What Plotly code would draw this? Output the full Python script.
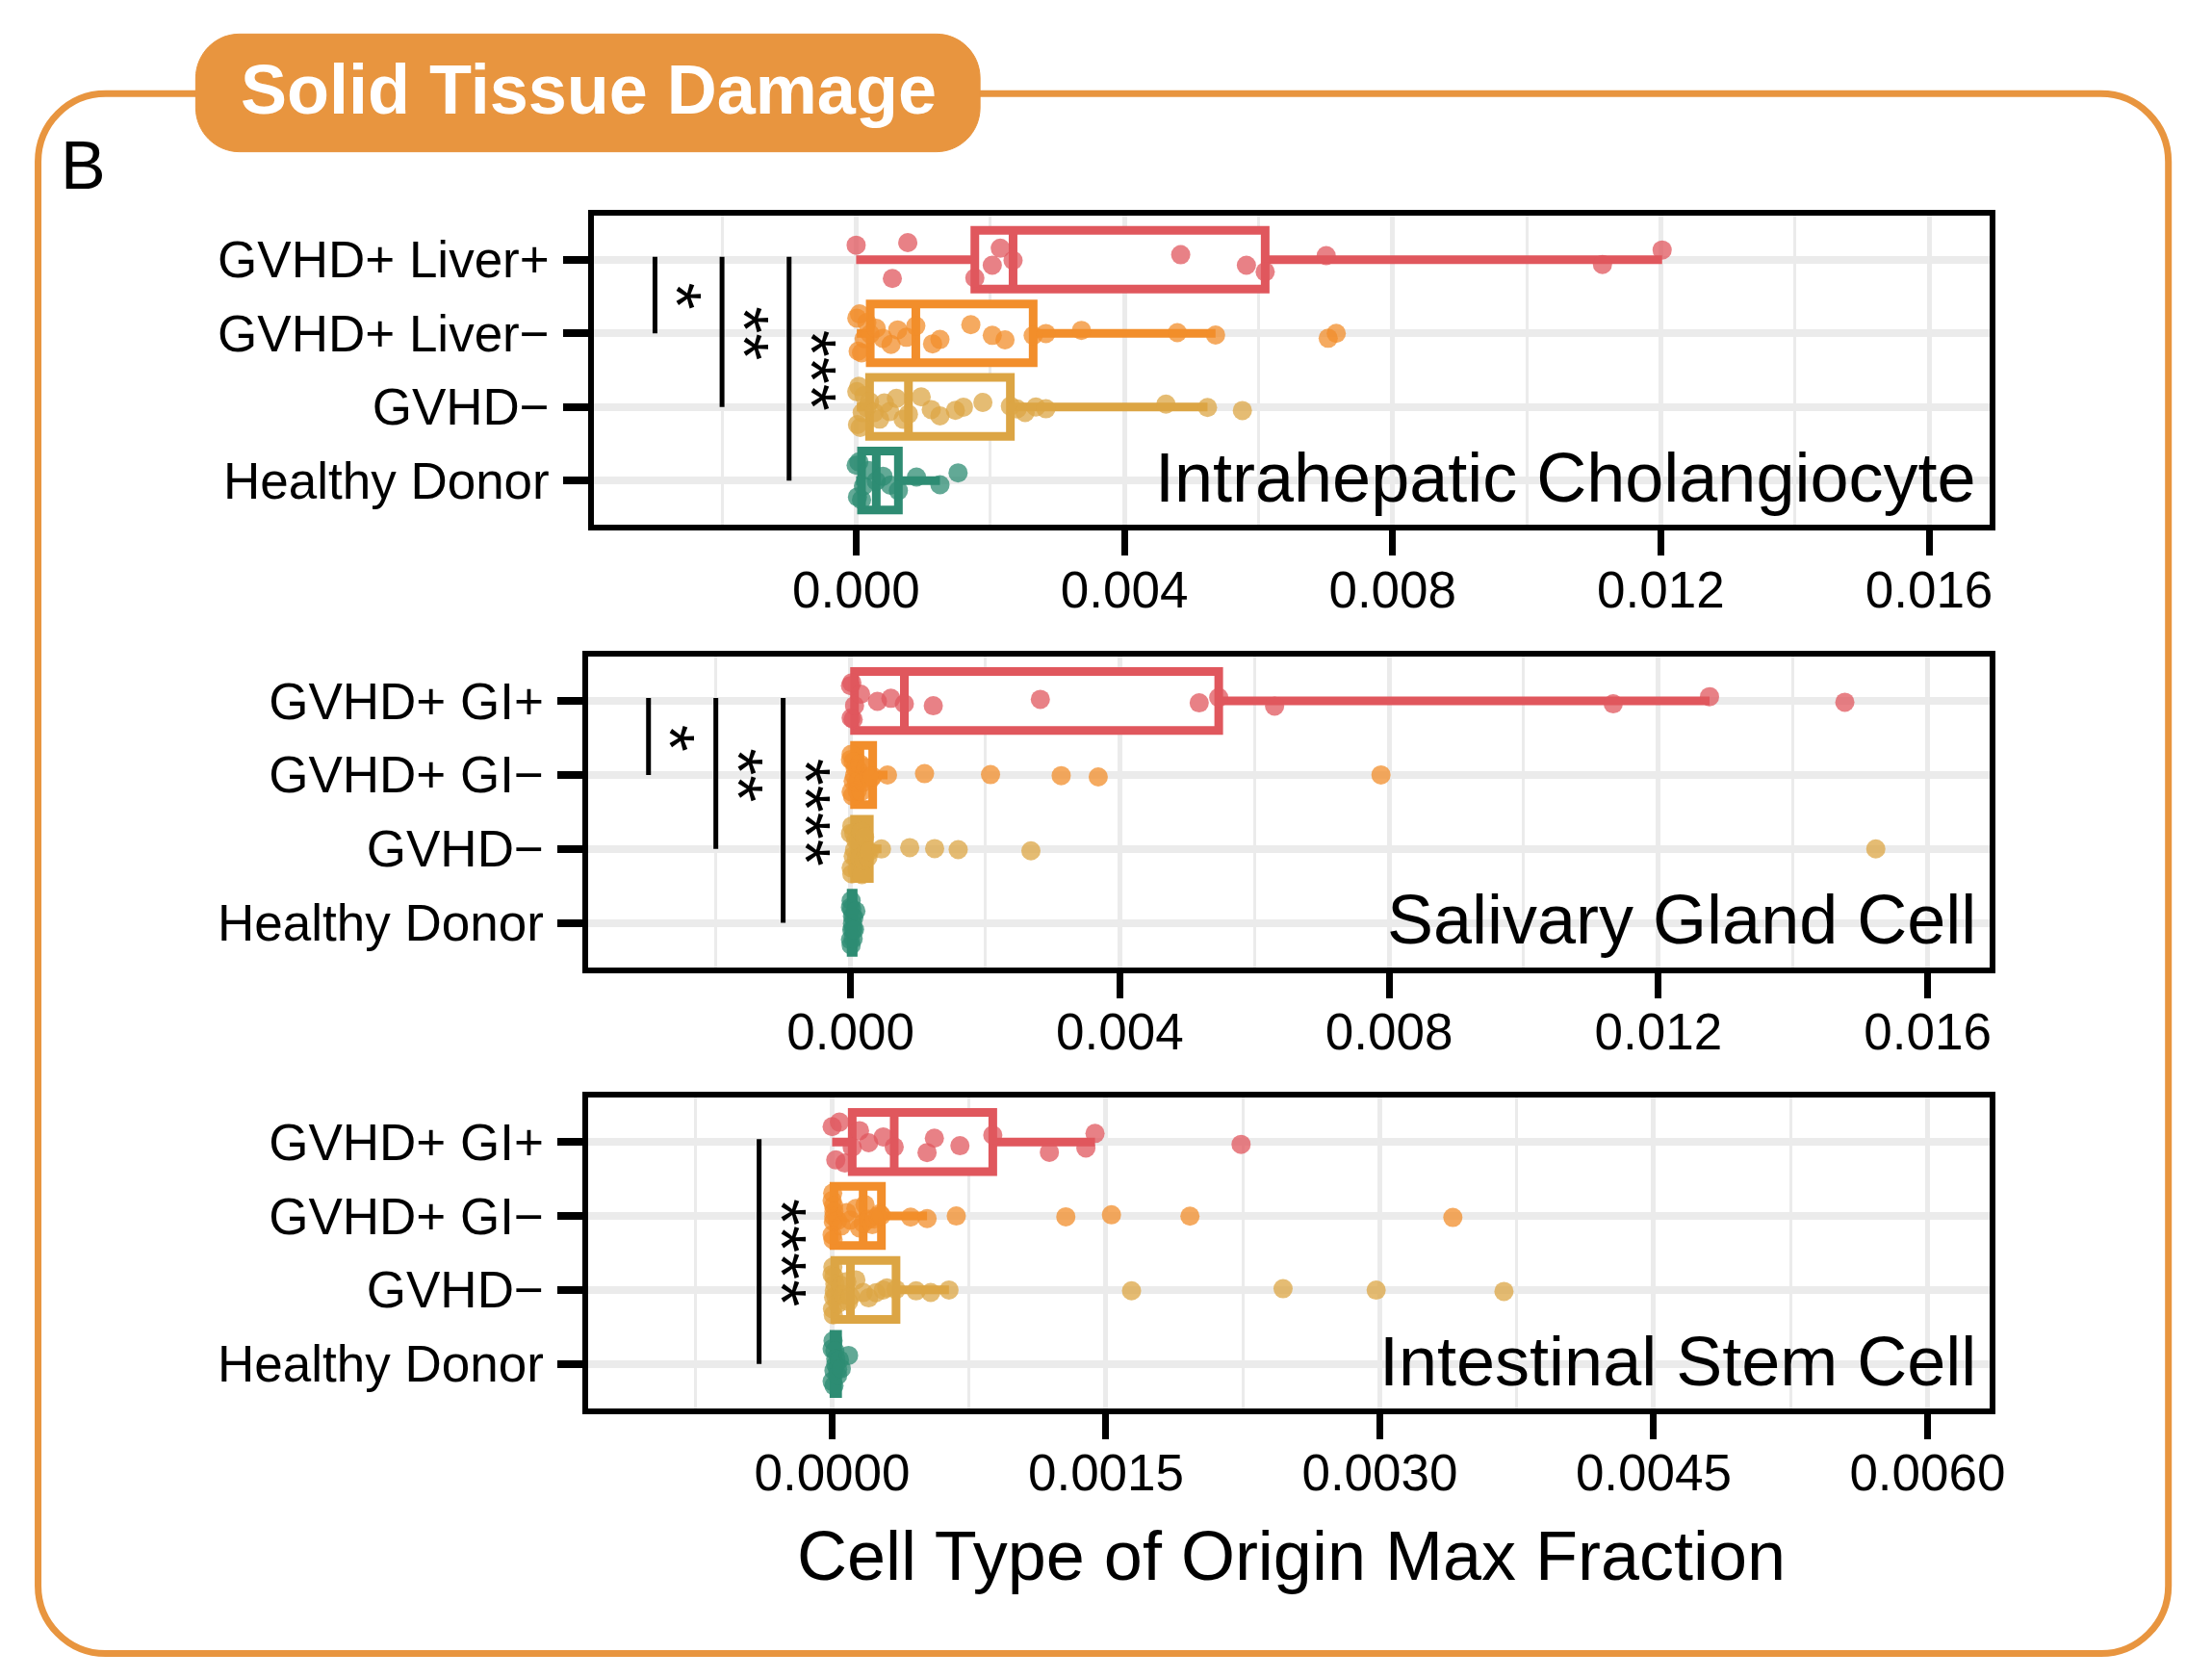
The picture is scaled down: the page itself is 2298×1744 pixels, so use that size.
import plotly.graph_objects as go

# reference is drawn at 1560 wide in my measurements, real page is 2298 wide
S = 2298 / 1560
W, H = 2282, 1728
OFF = 8  # body margin of the html page


def fx(d):
    return (d * S - OFF) / W


def fy(d):
    return 1 - (d * S - OFF) / H


# ---- data -------------------------------------------------------------
liver_cats = ["GVHD+ Liver+", "GVHD+ Liver\u2212", "GVHD\u2212", "Healthy Donor"]
gi_cats = ["GVHD+ GI+", "GVHD+ GI\u2212", "GVHD\u2212", "Healthy Donor"]
group_colors = ["#E0575D", "#F28E2B", "#DCA544", "#2E8C73"]

chol_liver_pos = [0, 0.00054, 0.00077, 0.00177, 0.00203, 0.00215, 0.00234, 0.00484,
                  0.00582, 0.0061, 0.00701, 0.01113, 0.01202]
chol_liver_neg = [0.00001, 0.00003, 0.00005, 0.00008, 0.00012, 0.00016, 0.00021, 0.0003,
                  0.0004, 0.00052, 0.00062, 0.00075, 0.00089, 0.00114, 0.00125, 0.00171,
                  0.00203, 0.00222, 0.00264, 0.00283, 0.00336, 0.00479, 0.00536, 0.00704,
                  0.00716]
chol_gvhd_neg = [0.00001, 0.00002, 0.00004, 0.00006, 0.00009, 0.00012, 0.00016, 0.0002,
                 0.00027, 0.00035, 0.00042, 0.0005, 0.0006, 0.0007, 0.00078, 0.00097,
                 0.00112, 0.00125, 0.00148, 0.0016, 0.00189, 0.0023, 0.0024, 0.00252,
                 0.00268, 0.00283, 0.00462, 0.00524, 0.00576]
chol_healthy = [0, 0.00002, 0.00004, 0.00008, 0.00011, 0.00019, 0.0003, 0.0004, 0.00051,
                0.00063, 0.0009, 0.00125, 0.00152]

sal_gi_pos = [0, 0.00001, 0.00002, 0.00004, 0.00006, 0.00015, 0.0004, 0.0006, 0.0008,
              0.00123, 0.00282, 0.00518, 0.00547, 0.0063, 0.01133, 0.01276, 0.01477]
sal_gi_neg = [0, 0.00001, 0.00001, 0.00003, 0.00004, 0.00004, 0.00006, 0.00007, 0.00009,
              0.0001, 0.00011, 0.00012, 0.00014, 0.00016, 0.00019, 0.00023, 0.00027,
              0.0003, 0.00033, 0.00055, 0.0011, 0.00208, 0.00313, 0.00368, 0.00788]
sal_gvhd_neg = [0, 0.00001, 0.00002, 0.00002, 0.00004, 0.00005, 0.00006, 0.00008, 0.00009,
                0.0001, 0.00012, 0.00014, 0.00016, 0.00017, 0.0002, 0.00021, 0.00024,
                0.00026, 0.00028, 0.00046, 0.00088, 0.00125, 0.0016, 0.00268, 0.01523]
sal_healthy = [0, 0, 0.00001, 0.00001, 0.00002, 0.00002, 0.00003, 0.00003, 0.00004,
               0.00004, 0.00005, 0.00006, 0.00008]

isc_gi_pos = [0, 0.00002, 0.00004, 0.00007, 0.00011, 0.00015, 0.0002, 0.00028, 0.00034,
              0.00052, 0.00056, 0.0007, 0.00088, 0.00119, 0.00139, 0.00144, 0.00224]
isc_gi_neg = [0, 0, 0.000003, 0.000005, 0.000007, 0.000008, 0.000009, 0.00001, 0.00003,
              0.00005, 0.00008, 0.0001, 0.00013, 0.00015, 0.00017, 0.00018, 0.0002,
              0.00022, 0.00023, 0.00025, 0.00026, 0.00027, 0.00043, 0.00052, 0.00068,
              0.00128, 0.00153, 0.00196, 0.0034]
isc_gvhd_neg = [0, 0.000002, 0.000004, 0.000006, 0.000008, 0.00001, 0.000012, 0.000015,
                0.00002, 0.00003, 0.00005, 0.00006, 0.00008, 0.00009, 0.0001, 0.00013,
                0.00017, 0.0002, 0.00024, 0.00028, 0.0003, 0.00035, 0.00046, 0.00054,
                0.00064, 0.00164, 0.00247, 0.00298, 0.00368]
isc_healthy = [0, 0, 0.000005, 0.00001, 0.00001, 0.000015, 0.00002, 0.00002, 0.00003,
               0.00003, 0.00004, 0.00005, 0.00009]

wide_ticks = [0, 0.004, 0.008, 0.012, 0.016]
wide_ticktext = ["0.000", "0.004", "0.008", "0.012", "0.016"]
wide_minor = [-0.002, 0.002, 0.006, 0.010, 0.014]
narrow_ticks = [0, 0.0015, 0.003, 0.0045, 0.006]
narrow_ticktext = ["0.0000", "0.0015", "0.0030", "0.0045", "0.0060"]
narrow_minor = [-0.00075, 0.00075, 0.00225, 0.00375, 0.00525]

# significance: compared with the top group, ends at group index, label
chol_sig_ends = [1, 2, 3]
chol_sig_labels = ["*", "**", "***"]
sal_sig_ends = [1, 2, 3]
sal_sig_labels = ["*", "**", "****"]
isc_sig_ends = [3]
isc_sig_labels = ["****"]

panels = [
    dict(cats=liver_cats, values=[chol_liver_pos, chol_liver_neg, chol_gvhd_neg, chol_healthy],
         label="Intrahepatic Cholangiocyte", rng=[-0.003906, 0.016903],
         ticks=wide_ticks, ticktext=wide_ticktext, minor=wide_minor,
         box=(422, 1413, 152, 370), label_y=337,
         sig_ends=chol_sig_ends, sig_labels=chol_sig_labels,
         sig_x=[-0.003, -0.002, -0.001], star_dx=0.00033),
    dict(cats=gi_cats, values=[sal_gi_pos, sal_gi_neg, sal_gvhd_neg, sal_healthy],
         label="Salivary Gland Cell", rng=[-0.00389, 0.01692],
         ticks=wide_ticks, ticktext=wide_ticktext, minor=wide_minor,
         box=(418, 1413, 463, 682), label_y=648,
         sig_ends=sal_sig_ends, sig_labels=sal_sig_labels,
         sig_x=[-0.003, -0.002, -0.001], star_dx=0.00033),
    dict(cats=gi_cats, values=[isc_gi_pos, isc_gi_neg, isc_gvhd_neg, isc_healthy],
         label="Intestinal Stem Cell", rng=[-0.001334, 0.00634],
         ticks=narrow_ticks, ticktext=narrow_ticktext, minor=narrow_minor,
         box=(418, 1413, 774, 993), label_y=960,
         sig_ends=isc_sig_ends, sig_labels=isc_sig_labels,
         sig_x=[-0.0004], star_dx=0.00012),
]

FONT = "Liberation Sans, Arial, sans-serif"
ORANGE = "#E8953F"
GRID = "#EBEBEB"

fig = go.Figure()
layout = dict(width=W, height=H, margin=dict(l=0, r=0, t=0, b=0),
              paper_bgcolor="white", plot_bgcolor="white",
              font=dict(family=FONT, color="black"), showlegend=False,
              boxmode="overlay")
shapes = []
annotations = []

for p_i, p in enumerate(panels):
    n = "" if p_i == 0 else str(p_i + 1)
    xname, yname = "x" + n, "y" + n
    x0d, x1d, y0d, y1d = p["box"]
    order = list(reversed(p["cats"]))  # bottom -> top
    layout["xaxis" + n] = dict(
        domain=[fx(x0d), fx(x1d)], anchor=yname, range=p["rng"],
        tickmode="array", tickvals=p["ticks"], ticktext=p["ticktext"],
        ticks="outside", ticklen=26, tickwidth=7, tickcolor="black",
        tickfont=dict(size=53, family=FONT, color="black"), ticklabelstandoff=-10,
        showline=True, linewidth=6, linecolor="black", mirror=True,
        showgrid=True, gridcolor=GRID, gridwidth=5, zeroline=False,
        minor=dict(tickmode="array", tickvals=p["minor"], showgrid=True,
                   gridcolor=GRID, gridwidth=3, ticks=""),
    )
    layout["yaxis" + n] = dict(
        domain=[fy(y1d), fy(y0d)], anchor=xname, type="category",
        categoryorder="array", categoryarray=order, range=[-0.6, 3.6],
        ticks="outside", ticklen=26, tickwidth=8, tickcolor="black",
        tickfont=dict(size=53, family=FONT, color="black"), ticklabelstandoff=4,
        showline=True, linewidth=6, linecolor="black", mirror=True,
        showgrid=True, gridcolor=GRID, gridwidth=8, zeroline=False,
    )

    for cat, vals, col in zip(p["cats"], p["values"], group_colors):
        fig.add_trace(go.Box(
            x=vals, y=[cat] * len(vals), orientation="h", name=cat,
            xaxis=xname, yaxis=yname,
            boxpoints="all", jitter=1.0, pointpos=0, width=0.8,
            quartilemethod="inclusive", whiskerwidth=0,
            fillcolor="white", line=dict(color=col, width=9),
            marker=dict(color=col, size=20, opacity=0.75, line=dict(width=0)),
            showlegend=False,
        ))

    # significance brackets from the top group
    top_idx = 3
    for end, lab, sx in zip(p["sig_ends"], p["sig_labels"], p["sig_x"]):
        end_idx = 3 - end
        shapes.append(dict(type="line", xref=xname, yref=yname,
                           x0=sx, x1=sx, y0=top_idx + 0.04, y1=end_idx,
                           line=dict(color="black", width=5)))
        annotations.append(dict(x=sx + p["star_dx"], y=(top_idx + end_idx) / 2,
                                xref=xname, yref=yname, text=lab, showarrow=False,
                                textangle=90, font=dict(size=72, family=FONT, color="black"),
                                xanchor="center", yanchor="middle"))

    annotations.append(dict(x=fx(1405), y=fy(p["label_y"]), xref="paper", yref="paper",
                            text=p["label"], showarrow=False, xanchor="right",
                            yanchor="middle", font=dict(size=72, family=FONT, color="black")))


def rounded_rect(x0, y0, x1, y1, r):
    k = 0.4477
    pts = [
        ("M", [(x0 + r, y0)]), ("L", [(x1 - r, y0)]),
        ("C", [(x1 - r * k, y0), (x1, y0 + r * k), (x1, y0 + r)]),
        ("L", [(x1, y1 - r)]),
        ("C", [(x1, y1 - r * k), (x1 - r * k, y1), (x1 - r, y1)]),
        ("L", [(x0 + r, y1)]),
        ("C", [(x0 + r * k, y1), (x0, y1 - r * k), (x0, y1 - r)]),
        ("L", [(x0, y0 + r)]),
        ("C", [(x0, y0 + r * k), (x0 + r * k, y0), (x0 + r, y0)]),
    ]
    out = []
    for cmd, coords in pts:
        out.append(cmd + " " + " ".join(f"{fx(a):.5f},{fy(b):.5f}" for a, b in coords))
    return " ".join(out) + " Z"


# outer frame and title pill
shapes.insert(0, dict(type="path", xref="paper", yref="paper",
                      path=rounded_rect(27, 66, 1540, 1166, 48),
                      line=dict(color=ORANGE, width=7), fillcolor="rgba(0,0,0,0)"))
shapes.insert(1, dict(type="path", xref="paper", yref="paper",
                      path=rounded_rect(139, 24, 696, 107, 31),
                      line=dict(color=ORANGE, width=1), fillcolor=ORANGE))

annotations += [
    dict(x=fx(418), y=fy(63), xref="paper", yref="paper", text="<b>Solid Tissue Damage</b>",
         showarrow=False, xanchor="center", yanchor="middle",
         font=dict(size=72, family=FONT, color="white")),
    dict(x=fx(59), y=fy(117), xref="paper", yref="paper", text="B",
         showarrow=False, xanchor="center", yanchor="middle",
         font=dict(size=70, family=FONT, color="black")),
    dict(x=fx(917), y=fy(1097), xref="paper", yref="paper",
         text="Cell Type of Origin Max Fraction", showarrow=False,
         xanchor="center", yanchor="middle",
         font=dict(size=72, family=FONT, color="black")),
]

layout["shapes"] = shapes
layout["annotations"] = annotations
fig.update_layout(**layout)

fig.write_html("out.html")
